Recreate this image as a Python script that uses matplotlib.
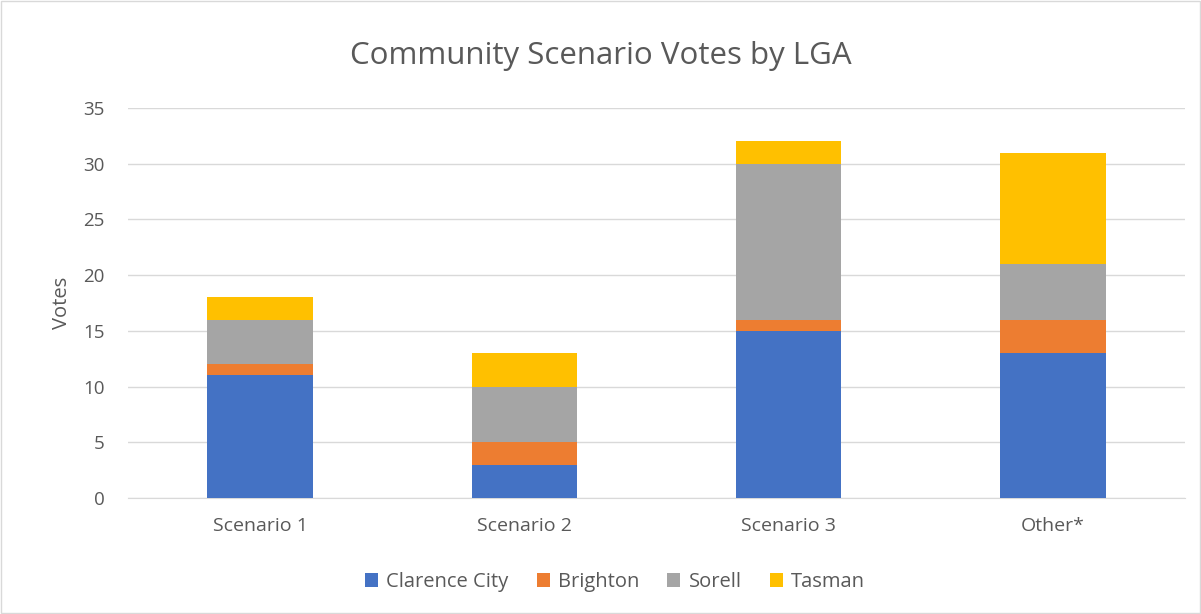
import numpy as np
import matplotlib.pyplot as plt

categories = ['Scenario 1', 'Scenario 2', 'Scenario 3', 'Other*']
clarence = [11, 3, 15, 13]
brighton = [1, 2, 1, 3]
sorell = [4, 5, 14, 5]
tasman = [2, 3, 2, 10]

series = [('Clarence City', clarence, '#4472C4'),
          ('Brighton', brighton, '#ED7D31'),
          ('Sorell', sorell, '#A5A5A5'),
          ('Tasman', tasman, '#FFC000')]

plt.rcParams['font.family'] = ['Open Sans', 'DejaVu Sans']

fig = plt.figure(figsize=(12.01, 6.14), dpi=100)
ax = fig.add_axes([0.1066, 0.189, 0.88, 0.635])

x = np.arange(len(categories))
bottom = np.zeros(len(categories))
for name, vals, col in series:
    ax.bar(x, vals, 0.4, bottom=bottom, color=col, label=name, zorder=3)
    bottom += np.array(vals)

ax.set_xlim(-0.5, 3.5)
ax.set_ylim(0, 35)
ax.set_yticks(range(0, 36, 5))
ax.set_xticks(x)
ax.set_xticklabels(categories)
ax.grid(axis='y', color='#D9D9D9', linewidth=1, zorder=0)
for s in ['top', 'right', 'left']:
    ax.spines[s].set_visible(False)
ax.spines['bottom'].set_color('#D9D9D9')
ax.tick_params(axis='x', length=0, labelsize=14, colors='#595959', pad=14)
ax.tick_params(axis='y', length=0, labelsize=13.5, colors='#595959', pad=17)
ax.set_ylabel('Votes', fontsize=14.5, color='#595959', labelpad=8)

fig.text(0.5, 0.908, 'Community Scenario Votes by LGA', ha='center', va='center',
         fontsize=22.5, color='#595959')
fig.legend(loc='center', bbox_to_anchor=(0.512, 0.052), ncol=4, frameon=False,
           fontsize=14.5, handlelength=0.65, handleheight=0.65, columnspacing=1.4,
           handletextpad=0.4, labelcolor='#595959')

fig.patches.append(plt.Rectangle((0.001, 0.001), 0.998, 0.998, transform=fig.transFigure,
                                 fill=False, edgecolor='#D9D9D9', linewidth=1))

plt.savefig('out.png')
